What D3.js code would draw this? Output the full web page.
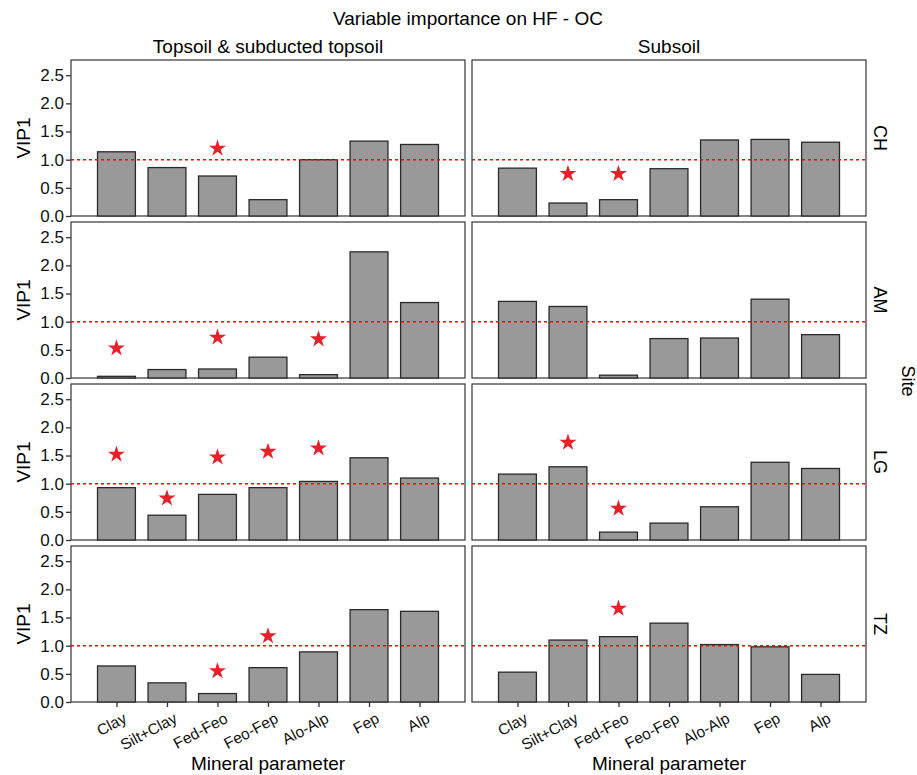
<!DOCTYPE html>
<html>
<head>
<meta charset="utf-8">
<script src="https://cdn.jsdelivr.net/npm/d3@7"></script>
<style>
  body { margin: 0; background: #fff; }
  svg { font-family: "Liberation Sans", Arial, sans-serif; }
</style>
</head>
<body>
<div id="chart"></div>
<script>
const params = ['Clay','Silt+Clay','Fed-Feo','Feo-Fep','Alo-Alp','Fep','Alp']
const sites = ['CH','AM','LG','TZ']
const depths = ['Topsoil & subducted topsoil','Subsoil']
const yTicks = [0, 0.5, 1, 1.5, 2, 2.5]

// VIP1 per site, [topsoil, subsoil], in params order
const vip = {
  CH: [[1.14,0.86,0.71,0.29,1.00,1.33,1.27],[0.85,0.23,0.29,0.84,1.35,1.36,1.31]],
  AM: [[0.03,0.15,0.16,0.37,0.06,2.24,1.34],[1.36,1.27,0.05,0.70,0.71,1.40,0.77]],
  LG: [[0.93,0.44,0.81,0.93,1.04,1.46,1.10],[1.17,1.30,0.14,0.30,0.59,1.38,1.27]],
  TZ: [[0.64,0.34,0.15,0.61,0.89,1.64,1.61],[0.53,1.10,1.16,1.40,1.02,0.98,0.49]]
}
// significance stars: [site, depth index, param, y position]
const stars = [
  ['CH',0,'Fed-Feo',1.20],
  ['CH',1,'Silt+Clay',0.75],['CH',1,'Fed-Feo',0.75],
  ['AM',0,'Clay',0.53],['AM',0,'Fed-Feo',0.72],['AM',0,'Alo-Alp',0.69],
  ['LG',0,'Clay',1.52],['LG',0,'Silt+Clay',0.74],['LG',0,'Fed-Feo',1.47],['LG',0,'Feo-Fep',1.57],['LG',0,'Alo-Alp',1.63],
  ['LG',1,'Silt+Clay',1.73],['LG',1,'Fed-Feo',0.56],
  ['TZ',0,'Fed-Feo',0.55],['TZ',0,'Feo-Fep',1.17],
  ['TZ',1,'Fed-Feo',1.66]
]
const threshold = 1

const svg = d3.select('#chart').append('svg')
  .attr('width', 917)
  .attr('height', 775)

const panelX = [71, 472]
const panelW = 394
const panelTop = [60, 222, 384, 546]
const panelH = 156

const x = d3.scalePoint().domain(params).range([0, panelW]).padding(0.9)
const barW = x.step() * 0.75
const y = d3.scaleLinear().domain([0, 2.77]).range([panelH, 0])

svg.append('text')
  .attr('x', 468).attr('y', 25)
  .attr('text-anchor', 'middle')
  .attr('font-size', 19)
  .text('Variable importance on HF - OC')

depths.forEach((d, j) => {
  svg.append('text')
    .attr('x', panelX[j] + panelW / 2).attr('y', 53)
    .attr('text-anchor', 'middle')
    .attr('font-size', 19)
    .text(d)
})

sites.forEach((site, i) => {
  depths.forEach((dep, j) => {
    const g = svg.append('g')
      .attr('transform', `translate(${panelX[j]},${panelTop[i]})`)

    g.append('rect')
      .attr('width', panelW).attr('height', panelH)
      .attr('fill', 'none').attr('stroke', '#333').attr('stroke-width', 1.2)

    g.selectAll('.bar')
      .data(vip[site][j].map((v, k) => ({ p: params[k], v })))
      .enter().append('rect')
      .attr('class', 'bar')
      .attr('x', d => x(d.p) - barW / 2)
      .attr('y', d => y(d.v))
      .attr('width', barW)
      .attr('height', d => y(0) - y(d.v))
      .attr('fill', '#999999')
      .attr('stroke', '#2a2a2a')
      .attr('stroke-width', 1.3)

    g.append('line')
      .attr('x1', 0).attr('x2', panelW)
      .attr('y1', y(threshold)).attr('y2', y(threshold))
      .attr('stroke', '#ff0000')
      .attr('stroke-width', 1.5)
      .attr('stroke-dasharray', '3,3')

    g.selectAll('.star')
      .data(stars.filter(s => s[0] === site && s[1] === j))
      .enter().append('path')
      .attr('class', 'star')
      .attr('d', d3.symbol(d3.symbolStar, 90))
      .attr('transform', d => `translate(${x(d[2])},${y(d[3])})`)
      .attr('fill', '#e8202a')

    if (j === 0) {
      const ya = g.append('g')
        .call(d3.axisLeft(y).tickValues(yTicks).tickFormat(d3.format('.1f')).tickSize(5).tickPadding(2))
      ya.select('.domain').remove()
      ya.selectAll('.tick line').attr('stroke', '#333').attr('stroke-width', 1.3)
      ya.selectAll('.tick text').attr('font-size', 17).attr('fill', '#111')
        .attr('font-family', '"Liberation Sans", Arial, sans-serif')

      svg.append('text')
        .attr('transform', `translate(30,${panelTop[i] + panelH / 2}) rotate(-90)`)
        .attr('text-anchor', 'middle')
        .attr('font-size', 19)
        .text('VIP1')
    } else {
      svg.append('text')
        .attr('transform', `translate(874,${panelTop[i] + panelH / 2}) rotate(90)`)
        .attr('text-anchor', 'middle')
        .attr('font-size', 18)
        .text(site)
    }

    if (i === sites.length - 1) {
      const xa = g.append('g')
        .attr('transform', `translate(0,${panelH})`)
        .call(d3.axisBottom(x).tickSize(5).tickPadding(3))
      xa.select('.domain').remove()
      xa.selectAll('.tick line').attr('stroke', '#333').attr('stroke-width', 1.3)
      xa.selectAll('.tick text')
        .attr('font-size', 15.5).attr('fill', '#111')
        .attr('font-family', '"Liberation Sans", Arial, sans-serif')
        .attr('text-anchor', 'end')
        .attr('dy', '0.7em')
        .attr('transform', 'translate(2,3) rotate(-28)')

      svg.append('text')
        .attr('x', panelX[j] + panelW / 2).attr('y', 770)
        .attr('text-anchor', 'middle')
        .attr('font-size', 19)
        .text('Mineral parameter')
    }
  })
})

svg.append('text')
  .attr('transform', `translate(902,${(panelTop[0] + panelTop[3] + panelH) / 2}) rotate(90)`)
  .attr('text-anchor', 'middle')
  .attr('font-size', 18)
  .text('Site')
</script>
</body>
</html>
